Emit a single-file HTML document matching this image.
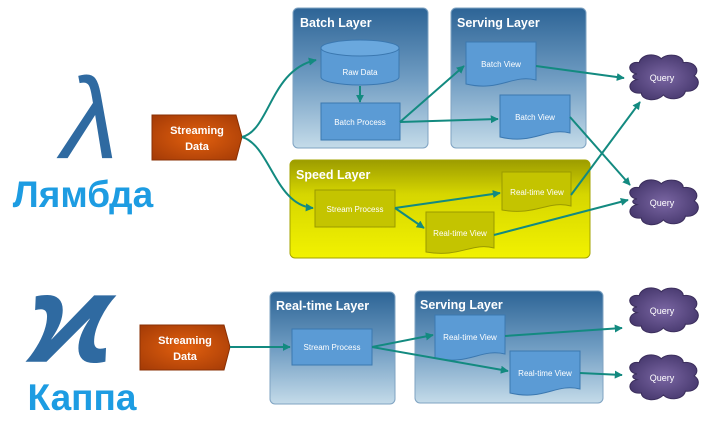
<!DOCTYPE html>
<html><head><meta charset="utf-8"><style>
html,body{margin:0;padding:0;background:#fff;width:724px;height:422px;overflow:hidden}
svg{display:block}
text{font-family:"Liberation Sans",sans-serif}
</style></head><body>
<svg width="724" height="422" viewBox="0 0 724 422" xmlns="http://www.w3.org/2000/svg">
<defs>
<linearGradient id="blue" x1="0" y1="0" x2="0" y2="1">
<stop offset="0" stop-color="#2d6496"/><stop offset="0.5" stop-color="#6f9cc2"/><stop offset="1" stop-color="#c4dbe9"/></linearGradient>
<linearGradient id="yel" x1="0" y1="0" x2="0" y2="1">
<stop offset="0" stop-color="#9c9c00"/><stop offset="0.35" stop-color="#d6d600"/><stop offset="1" stop-color="#f2f200"/></linearGradient>
<radialGradient id="org" cx="0.5" cy="0.5" r="0.7">
<stop offset="0" stop-color="#e2600e"/><stop offset="1" stop-color="#a33a06"/></radialGradient>
<radialGradient id="pur" cx="0.5" cy="0.5" r="0.6">
<stop offset="0" stop-color="#7a66a3"/><stop offset="1" stop-color="#43356a"/></radialGradient>
<marker id="ar" viewBox="0 0 10 10" refX="9" refY="5" markerWidth="4" markerHeight="4" orient="auto">
<path d="M0,0 L10,5 L0,10 z" fill="#138a80"/></marker>
<g id="cloud">
<path d="M10,20 C0,18 2,6 12,8 C14,-2 28,-2 32,4 C38,-3 52,0 52,8 C62,6 68,16 62,22 C70,28 64,40 54,38 C52,48 38,48 34,42 C28,50 14,48 14,40 C2,42 0,28 10,26 C4,24 6,20 10,20 Z" fill="url(#pur)" stroke="#3b2e5c" stroke-width="1"/>
</g>
</defs>

<!-- lambda -->
<text x="90" y="158" font-family="DejaVu Serif,serif" font-size="115" fill="#2f6aa1" text-anchor="middle" font-style="italic">λ</text>
<text x="83" y="207" font-size="37" font-weight="bold" fill="#1d9ce2" text-anchor="middle">Лямбда</text>
<!-- kappa -->
<text x="70" y="362" font-family="DejaVu Serif,serif" font-size="125" font-weight="bold" fill="#2f6aa1" text-anchor="middle" font-style="italic">ϰ</text>
<text x="82" y="410" font-size="37" font-weight="bold" fill="#1d9ce2" text-anchor="middle">Каппа</text>

<!-- Streaming data 1 -->
<path d="M152,115 L236,115 L242,137 L236,160 L152,160 Z" fill="url(#org)" stroke="#8a3004"/>
<text x="197" y="134" font-size="11" font-weight="bold" fill="#fff" text-anchor="middle">Streaming</text>
<text x="197" y="150" font-size="11" font-weight="bold" fill="#fff" text-anchor="middle">Data</text>
<!-- Streaming data 2 -->
<path d="M140,325 L224,325 L230,347 L224,370 L140,370 Z" fill="url(#org)" stroke="#8a3004"/>
<text x="185" y="344" font-size="11" font-weight="bold" fill="#fff" text-anchor="middle">Streaming</text>
<text x="185" y="360" font-size="11" font-weight="bold" fill="#fff" text-anchor="middle">Data</text>

<!-- Layers top -->
<rect x="293" y="8" width="135" height="140" rx="5" fill="url(#blue)" stroke="#7fa3c2"/>
<text x="300" y="27" font-size="12.5" font-weight="bold" fill="#fff">Batch Layer</text>
<rect x="451" y="8" width="135" height="140" rx="5" fill="url(#blue)" stroke="#7fa3c2"/>
<text x="457" y="27" font-size="12.5" font-weight="bold" fill="#fff">Serving Layer</text>
<rect x="290" y="160" width="300" height="98" rx="5" fill="url(#yel)" stroke="#a3a300"/>
<text x="296" y="179" font-size="12.5" font-weight="bold" fill="#fff">Speed Layer</text>

<!-- Raw data cylinder -->
<path d="M321,48 L321,77 A39,8 0 0 0 399,77 L399,48" fill="#5b9bd5" stroke="#3b78b0"/>
<ellipse cx="360" cy="48" rx="39" ry="8" fill="#6aa8de" stroke="#3b78b0"/>
<text x="360" y="75" font-size="8" fill="#fff" text-anchor="middle">Raw Data</text>
<rect x="321" y="103" width="79" height="37" fill="#5b9bd5" stroke="#3b78b0"/>
<text x="360" y="125" font-size="8" fill="#fff" text-anchor="middle">Batch Process</text>

<!-- docs -->
<g fill="#5b9bd5" stroke="#3b78b0">
<path d="M466,42 L536,42 L536,80 C512,74 500,92 466,84 Z"/>
<path d="M500,95 L570,95 L570,133 C546,127 534,145 500,137 Z"/>
</g>
<text x="501" y="67" font-size="8" fill="#fff" text-anchor="middle">Batch View</text>
<text x="535" y="120" font-size="8" fill="#fff" text-anchor="middle">Batch View</text>
<g fill="#c4c400" stroke="#9a9a00">
<rect x="315" y="190" width="80" height="37"/>
<path d="M502,172 L571,172 L571,206 C548,200 536,216 502,210 Z"/>
<path d="M426,212 L494,212 L494,248 C472,242 460,258 426,252 Z"/>
</g>
<text x="355" y="212" font-size="8" fill="#fff" text-anchor="middle">Stream Process</text>
<text x="537" y="195" font-size="8" fill="#fff" text-anchor="middle">Real-time View</text>
<text x="460" y="236" font-size="8" fill="#fff" text-anchor="middle">Real-time View</text>

<!-- kappa layers -->
<rect x="270" y="292" width="125" height="112" rx="5" fill="url(#blue)" stroke="#7fa3c2"/>
<text x="276" y="310" font-size="12.5" font-weight="bold" fill="#fff">Real-time Layer</text>
<rect x="415" y="291" width="188" height="112" rx="5" fill="url(#blue)" stroke="#7fa3c2"/>
<text x="420" y="309" font-size="12.5" font-weight="bold" fill="#fff">Serving Layer</text>
<rect x="292" y="329" width="80" height="36" fill="#5b9bd5" stroke="#3b78b0"/>
<text x="332" y="350" font-size="8" fill="#fff" text-anchor="middle">Stream Process</text>
<g fill="#5b9bd5" stroke="#3b78b0">
<path d="M435,315 L505,315 L505,354 C481,348 469,366 435,358 Z"/>
<path d="M510,351 L580,351 L580,389 C556,383 544,401 510,393 Z"/>
</g>
<text x="470" y="340" font-size="8" fill="#fff" text-anchor="middle">Real-time View</text>
<text x="545" y="376" font-size="8" fill="#fff" text-anchor="middle">Real-time View</text>

<!-- clouds -->
<use href="#cloud" transform="translate(626,55) scale(1.1,0.95)"/>
<use href="#cloud" transform="translate(626,180) scale(1.1,0.95)"/>
<use href="#cloud" transform="translate(626,288) scale(1.1,0.95)"/>
<use href="#cloud" transform="translate(626,355) scale(1.1,0.95)"/>
<g font-size="9" fill="#fff" text-anchor="middle">
<text x="662" y="81">Query</text><text x="662" y="206">Query</text>
<text x="662" y="314">Query</text><text x="662" y="381">Query</text>
</g>

<!-- connectors -->
<g stroke="#138a80" stroke-width="2" fill="none" marker-end="url(#ar)">
<path d="M242,137 C270,130 270,70 316,60"/>
<path d="M242,137 C270,145 275,205 313,208"/>
<path d="M360,86 L360,102"/>
<path d="M400,122 L464,66"/>
<path d="M400,122 L498,119"/>
<path d="M536,66 L624,78"/>
<path d="M570,117 L630,185"/>
<path d="M395,208 L500,193"/>
<path d="M395,208 L424,228"/>
<path d="M571,195 L640,102"/>
<path d="M494,235 L628,200"/>
<path d="M230,347 L290,347"/>
<path d="M372,347 L433,335"/>
<path d="M372,347 L508,371"/>
<path d="M505,336 L622,328"/>
<path d="M580,373 L622,375"/>
</g>
</svg>
</body></html>
